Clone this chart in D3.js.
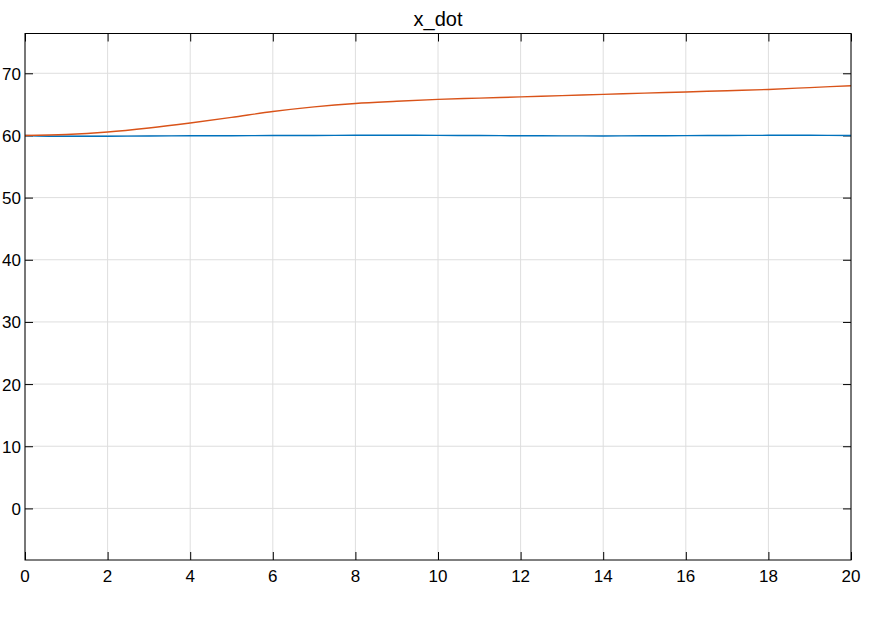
<!DOCTYPE html>
<html>
<head>
<meta charset="utf-8">
<script src="https://cdn.jsdelivr.net/npm/d3@7"></script>
<style>
    body { margin: 0; background: #fff; }
    svg { display: block; font-family: "Liberation Sans", Arial, sans-serif; }
</style>
</head>
<body>
<div id="chart"></div>
<script>
// Chart data
var timeValues = [0, 1, 2, 3, 4, 5, 6, 7, 8, 9, 10, 11, 12, 13, 14, 15, 16, 17, 18, 19, 20];
var blueValues = [60, 59.86, 59.88, 59.92, 59.95, 59.96, 59.98, 60.0, 60.02, 60.03, 60.01,
    59.98, 59.95, 59.93, 59.92, 59.94, 59.97, 60.0, 60.02, 60.02, 60.0];
var orangeValues = [60, 60.15, 60.55, 61.2, 62.0, 62.9, 63.85, 64.6, 65.15, 65.5, 65.8,
    66.0, 66.2, 66.4, 66.6, 66.8, 67.0, 67.2, 67.4, 67.7, 68.0];
var xTicks = [0, 2, 4, 6, 8, 10, 12, 14, 16, 18, 20];
var yTicks = [0, 10, 20, 30, 40, 50, 60, 70];
var titleText = 'x_dot';

var width = 875;
var height = 619;
var margin = {top: 33.5, left: 25, right: 24, bottom: 59};
var plotW = width - margin.left - margin.right;
var plotH = height - margin.top - margin.bottom;

var svg = d3.select('#chart').append('svg')
    .attr('width', width)
    .attr('height', height);

var xScale = d3.scaleLinear().domain([0, 20]).range([0, plotW]);
var yScale = d3.scaleLinear().domain([-8.3, 76.4]).range([plotH, 0]);

var g = svg.append('g')
    .attr('transform', 'translate(' + margin.left + ',' + margin.top + ')');

// Grid lines
g.append('g').selectAll('line')
    .data(xTicks).enter()
    .append('line')
        .attr('x1', d => xScale(d)).attr('x2', d => xScale(d))
        .attr('y1', 0).attr('y2', plotH)
        .attr('stroke', '#dedede').attr('stroke-width', 1);

g.append('g').selectAll('line')
    .data(yTicks).enter()
    .append('line')
        .attr('x1', 0).attr('x2', plotW)
        .attr('y1', d => yScale(d)).attr('y2', d => yScale(d))
        .attr('stroke', '#dedede').attr('stroke-width', 1);

// Axes (ticks point inward, mirrored on top and right)
var tickLen = 8;
var xAxis = g.append('g')
    .attr('transform', 'translate(0,' + plotH + ')')
    .call(d3.axisTop(xScale).tickValues(xTicks).tickSize(tickLen).tickFormat(''));
var xAxisTop = g.append('g')
    .call(d3.axisBottom(xScale).tickValues(xTicks).tickSize(tickLen).tickFormat(''));
var yAxis = g.append('g')
    .call(d3.axisRight(yScale).tickValues(yTicks).tickSize(tickLen).tickFormat(''));
var yAxisRight = g.append('g')
    .attr('transform', 'translate(' + plotW + ',0)')
    .call(d3.axisLeft(yScale).tickValues(yTicks).tickSize(tickLen).tickFormat(''));

[xAxis, xAxisTop, yAxis, yAxisRight].forEach(ax => {
    ax.select('.domain').remove();
    ax.selectAll('.tick line').attr('stroke', '#000').attr('stroke-width', 1);
});

// Tick labels
g.append('g').selectAll('text')
    .data(xTicks).enter()
    .append('text')
        .attr('x', d => xScale(d))
        .attr('y', plotH + 21.5)
        .attr('text-anchor', 'middle')
        .style('font-size', '17px')
        .text(d => d);

g.append('g').selectAll('text')
    .data(yTicks).enter()
    .append('text')
        .attr('x', -4)
        .attr('y', d => yScale(d) + 6.5)
        .attr('text-anchor', 'end')
        .style('font-size', '17px')
        .text(d => d);

// Lines
var line = d3.line()
    .x((d, i) => xScale(timeValues[i]))
    .y(d => yScale(d))
    .curve(d3.curveMonotoneX);

g.append('path')
    .datum(blueValues)
    .attr('fill', 'none')
    .attr('stroke', '#0072BD')
    .attr('stroke-width', 1.4)
    .attr('d', line);

g.append('path')
    .datum(orangeValues)
    .attr('fill', 'none')
    .attr('stroke', '#D95319')
    .attr('stroke-width', 1.4)
    .attr('d', line);

// Plot box
g.append('rect')
    .attr('x', 0).attr('y', 0)
    .attr('width', plotW).attr('height', plotH)
    .attr('fill', 'none')
    .attr('stroke', '#000')
    .attr('stroke-width', 1);

// Title
svg.append('text')
    .attr('x', margin.left + plotW / 2)
    .attr('y', 26)
    .attr('text-anchor', 'middle')
    .style('font-size', '20px')
    .text(titleText);
</script>
</body>
</html>
